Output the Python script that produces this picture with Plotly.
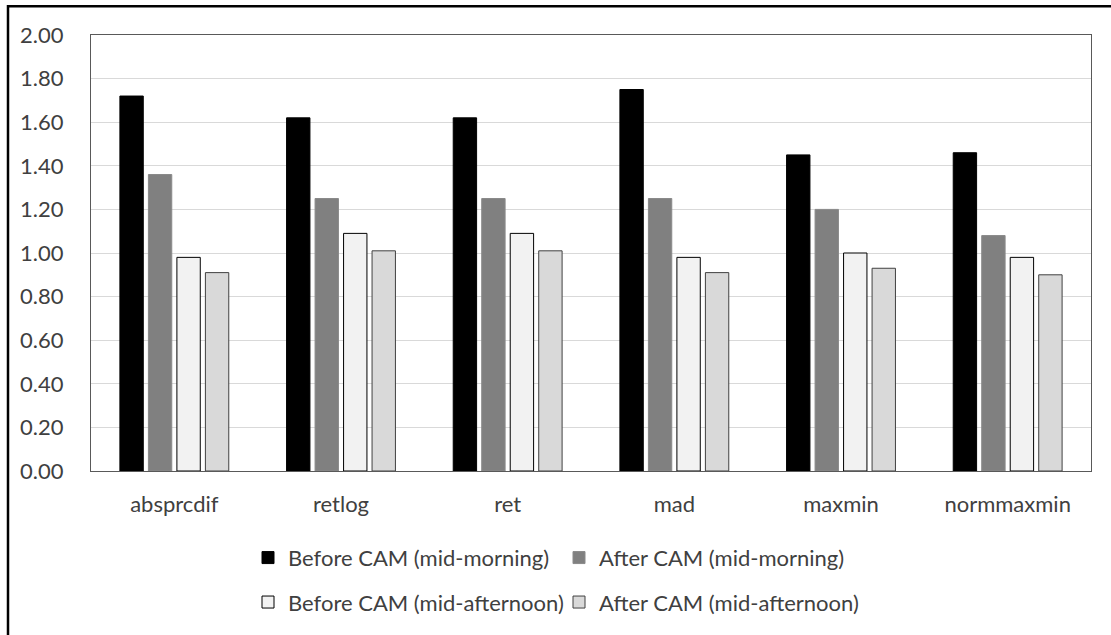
import plotly.graph_objects as go

categories = ["absprcdif", "retlog", "ret", "mad", "maxmin", "normmaxmin"]
before_morning = [1.72, 1.62, 1.62, 1.75, 1.45, 1.46]
after_morning = [1.36, 1.25, 1.25, 1.25, 1.20, 1.08]
before_afternoon = [0.98, 1.09, 1.09, 0.98, 1.00, 0.98]
after_afternoon = [0.91, 1.01, 1.01, 0.91, 0.93, 0.90]
y_ticks = [0.0, 0.2, 0.4, 0.6, 0.8, 1.0, 1.2, 1.4, 1.6, 1.8, 2.0]

FONT = "Lato, 'Open Sans', sans-serif"
TXT = "#404040"
FS = 22

fig = go.Figure()
fig.add_trace(go.Bar(name="Before CAM (mid-morning)", x=categories, y=before_morning,
                     marker=dict(color="#000000", line=dict(color="#000000", width=1)),
                     legend="legend"))
fig.add_trace(go.Bar(name="After CAM (mid-morning)", x=categories, y=after_morning,
                     marker=dict(color="#808080", line=dict(color="#8a8a8a", width=1)),
                     legend="legend"))
fig.add_trace(go.Bar(name="Before CAM (mid-afternoon)", x=categories, y=before_afternoon,
                     marker=dict(color="#f2f2f2", line=dict(color="#000000", width=1)),
                     legend="legend2"))
fig.add_trace(go.Bar(name="After CAM (mid-afternoon)", x=categories, y=after_afternoon,
                     marker=dict(color="#d9d9d9", line=dict(color="#404040", width=1)),
                     legend="legend2"))

legend_common = dict(orientation="h", xanchor="left", yanchor="middle",
                     font=dict(family=FONT, size=FS, color=TXT),
                     bgcolor="rgba(0,0,0,0)", itemclick=False, itemdoubleclick=False,
                     entrywidthmode="pixels", entrywidth=266, traceorder="normal")

fig.update_layout(
    width=1111, height=635,
    margin=dict(l=91, r=20, t=35, b=161),
    paper_bgcolor="white", plot_bgcolor="white",
    barmode="group", bargap=0.316, bargroupgap=0.18,
    font=dict(family=FONT, size=FS, color=TXT),
    showlegend=True,
    legend=dict(x=0.157, y=-0.199, **legend_common),
    legend2=dict(x=0.157, y=-0.301, **legend_common),
    xaxis=dict(showline=True, linecolor="#595959", linewidth=1, mirror=True,
               ticks="", ticklabelstandoff=14,
               tickfont=dict(family=FONT, size=FS, color=TXT)),
    yaxis=dict(range=[0, 2.0], tickvals=y_ticks,
               ticktext=[f"{v:.2f}" for v in y_ticks],
               showgrid=True, gridcolor="#d9d9d9", gridwidth=1,
               showline=True, linecolor="#595959", linewidth=1, mirror=True,
               ticks="", ticklabelstandoff=22, zeroline=False,
               tickfont=dict(family=FONT, size=FS, color=TXT)),
    shapes=[dict(type="rect", xref="paper", yref="paper",
                 x0=-0.083, x1=1.2, y0=1.066, y1=-0.6,
                 line=dict(color="#000000", width=2.5), fillcolor="rgba(0,0,0,0)",
                 layer="above")],
)

fig.write_html("out.html")
